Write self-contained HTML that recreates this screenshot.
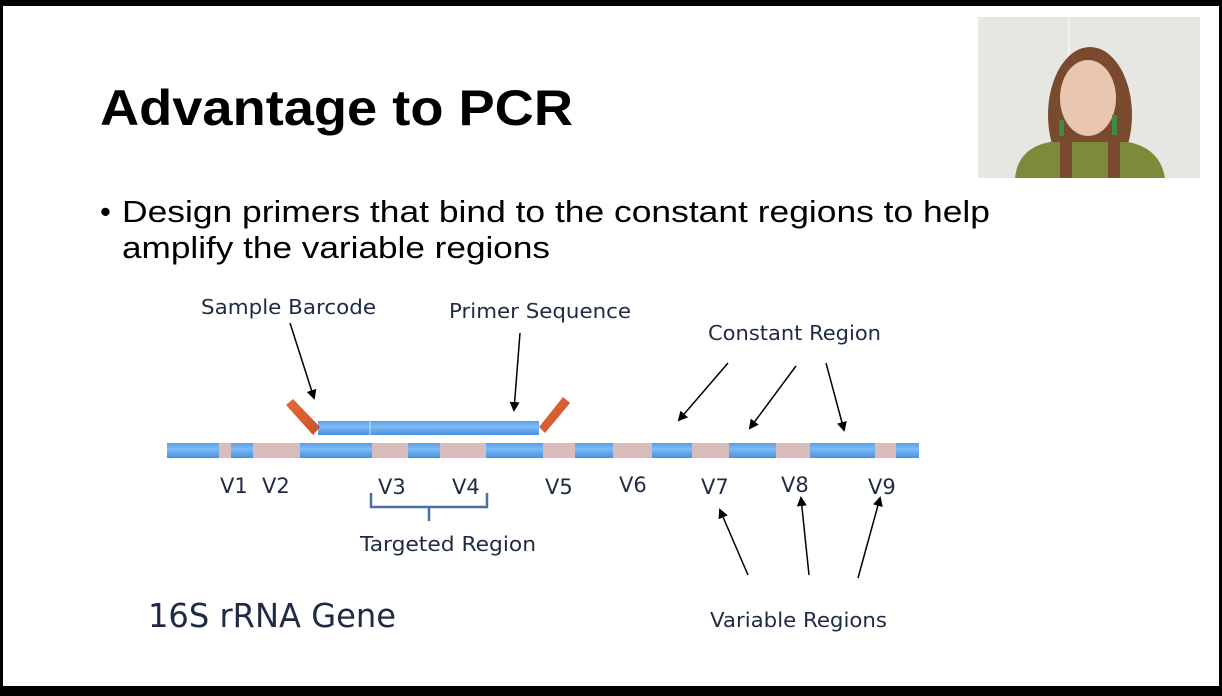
<!DOCTYPE html>
<html><head><meta charset="utf-8"><style>
html,body{margin:0;padding:0;background:#000;}
svg{display:block;}
</style></head><body>
<svg width="1222" height="696" viewBox="0 0 1222 696" xmlns="http://www.w3.org/2000/svg">
<defs>
<linearGradient id="bl" x1="0" y1="0" x2="0" y2="1">
<stop offset="0" stop-color="#5a9ee8"/><stop offset="0.4" stop-color="#7dbcf5"/><stop offset="1" stop-color="#4a8fe0"/>
</linearGradient>
<linearGradient id="or" x1="0" y1="0" x2="1" y2="1">
<stop offset="0" stop-color="#e86a3a"/><stop offset="1" stop-color="#c9502a"/>
</linearGradient>
<clipPath id="cam"><rect x="978" y="17" width="222" height="161"/></clipPath>
<marker id="ah" markerWidth="10" markerHeight="10" refX="8" refY="5" orient="auto" markerUnits="userSpaceOnUse">
<path d="M0,0 L10,5 L0,10 z" fill="#000"/>
</marker>
</defs>
<rect x="0" y="0" width="1222" height="696" fill="#000"/>
<rect x="3" y="6" width="1216" height="680" fill="#fff"/>

<!-- webcam -->
<g clip-path="url(#cam)">
<rect x="978" y="17" width="222" height="161" fill="#e6e6e3"/>
<rect x="1068" y="17" width="2" height="161" fill="#f2f2f0"/>
<ellipse cx="1090" cy="115" rx="42" ry="68" fill="#7a4a2e"/>
<path d="M1015,178 Q1018,148 1050,142 L1128,142 Q1160,148 1165,178 z" fill="#7e8a3a"/>
<rect x="1060" y="140" width="60" height="38" fill="#7a4a2e"/>
<rect x="1072" y="142" width="36" height="36" fill="#7e8a3a"/>
<ellipse cx="1088" cy="98" rx="28" ry="38" fill="#e8c6b0"/>
<rect x="1059" y="120" width="5" height="16" fill="#3e8a3e"/>
<rect x="1112" y="115" width="5" height="20" fill="#3e8a3e"/>
</g>

<!-- title -->
<text x="100" y="125" font-family="Liberation Sans, Arial, sans-serif" font-weight="bold" font-size="50" textLength="473" lengthAdjust="spacingAndGlyphs" fill="#000">Advantage to PCR</text>
<text x="100" y="222" font-family="Liberation Sans, Arial, sans-serif" font-size="31" fill="#000">•</text>
<text x="122" y="222" font-family="Liberation Sans, Arial, sans-serif" font-size="31" textLength="868" lengthAdjust="spacingAndGlyphs" fill="#000">Design primers that bind to the constant regions to help</text>
<text x="122" y="258" font-family="Liberation Sans, Arial, sans-serif" font-size="31" textLength="428" lengthAdjust="spacingAndGlyphs" fill="#000">amplify the variable regions</text>

<!-- gene bar -->
<g>
<rect x="167" y="443" width="752" height="15" fill="url(#bl)"/>
<g fill="#dbbcbc">
<rect x="219" y="443" width="12" height="15"/>
<rect x="253" y="443" width="47" height="15"/>
<rect x="372" y="443" width="36" height="15"/>
<rect x="440" y="443" width="46" height="15"/>
<rect x="543" y="443" width="32" height="15"/>
<rect x="613" y="443" width="39" height="15"/>
<rect x="692" y="443" width="37" height="15"/>
<rect x="776" y="443" width="34" height="15"/>
<rect x="875" y="443" width="21" height="15"/>
</g>
</g>

<!-- primer -->
<rect x="318" y="421" width="221" height="14" fill="url(#bl)"/>
<line x1="370" y1="420" x2="370" y2="436" stroke="#cfe3f7" stroke-width="1"/>
<polygon points="286,405 293,399 320,427 313,435" fill="url(#or)"/>
<polygon points="539,427 563,397 570,403 545,433" fill="url(#or)"/>

<!-- arrows -->
<g stroke="#000" stroke-width="1.5" marker-end="url(#ah)">
<line x1="290" y1="323" x2="314" y2="398"/>
<line x1="520" y1="333" x2="514" y2="410"/>
<line x1="728" y1="363" x2="679" y2="420"/>
<line x1="796" y1="366" x2="750" y2="428"/>
<line x1="826" y1="363" x2="844" y2="430"/>
<line x1="748" y1="575" x2="720" y2="510"/>
<line x1="809" y1="575" x2="801" y2="498"/>
<line x1="858" y1="578" x2="880" y2="498"/>
</g>

<!-- labels -->
<g font-family="DejaVu Sans, Liberation Sans, sans-serif" fill="#1f2a44" font-size="20">
<text x="201" y="314" textLength="175" lengthAdjust="spacingAndGlyphs">Sample Barcode</text>
<text x="449" y="318" textLength="182" lengthAdjust="spacingAndGlyphs">Primer Sequence</text>
<text x="708" y="340" textLength="173" lengthAdjust="spacingAndGlyphs">Constant Region</text>
<text x="360" y="551" textLength="176" lengthAdjust="spacingAndGlyphs">Targeted Region</text>
<text x="710" y="627" textLength="177" lengthAdjust="spacingAndGlyphs">Variable Regions</text>
<g font-size="21">
<text x="220" y="493">V1</text>
<text x="262" y="493">V2</text>
<text x="378" y="494">V3</text>
<text x="452" y="494">V4</text>
<text x="545" y="494">V5</text>
<text x="619" y="492">V6</text>
<text x="701" y="494">V7</text>
<text x="781" y="492">V8</text>
<text x="868" y="494">V9</text>
</g>
<text x="148" y="627" font-size="33" textLength="248" lengthAdjust="spacingAndGlyphs">16S rRNA Gene</text>
</g>
<path d="M371,493 L371,507 L487,507 L487,493 M429,507 L429,521" fill="none" stroke="#4a6fa5" stroke-width="2.5"/>
</svg>
</body></html>
